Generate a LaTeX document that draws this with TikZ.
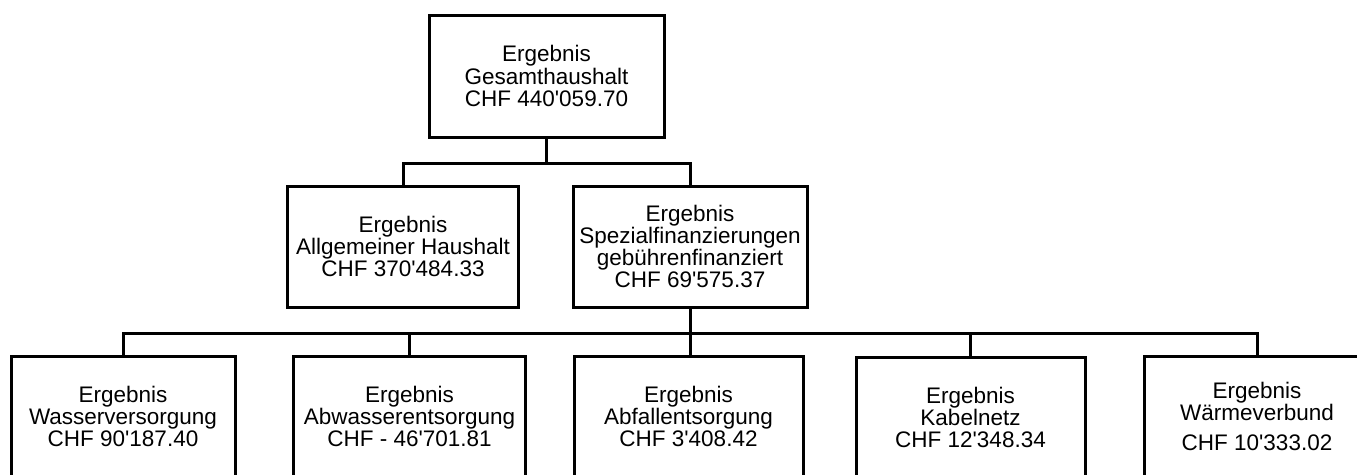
\documentclass[tikz,border=0pt]{standalone}
\usepackage{fontspec}
\setmainfont{Liberation Sans}[Ligatures=TeXOff]
\begin{document}
\begin{tikzpicture}[x=1pt,y=-1pt,
  box/.style={draw, line width=3pt, fill=white, align=center, inner sep=0pt,
    minimum height=121pt, font=\fontsize{22.5}{22.3}\selectfont},
  conn/.style={line width=3pt}]
\clip (0,0) rectangle (1357,474);
\fill[white] (0,0) rectangle (1357,474);
\node[box, minimum width=235pt, minimum height=122pt] (top) at (546.5,76) {Ergebnis\\Gesamthaushalt\\CHF 440'059.70};
\node[box, minimum width=231pt] (allg) at (403,246.5) {Ergebnis\\Allgemeiner Haushalt\\CHF 370'484.33};
\node[box, minimum width=234pt] (spez) at (690,246.5) {Ergebnis\\Spezialfinanzierungen\\gebührenfinanziert\\CHF 69'575.37};
\node[box, minimum width=224pt] (wasser) at (123,416.5) {Ergebnis\\Wasserversorgung\\CHF 90'187.40};
\node[box, minimum width=232pt] (abw) at (409.5,416.5) {Ergebnis\\Abwasserentsorgung\\CHF - 46'701.81};
\node[box, minimum width=229pt] (abf) at (688.5,416.5) {Ergebnis\\Abfallentsorgung\\CHF 3'408.42};
\node[box, minimum width=229pt] (kab) at (970.5,417.5) {Ergebnis\\Kabelnetz\\CHF 12'348.34};
\node[box, minimum width=226pt] (waerme) at (1257,416.5) {Ergebnis\\Wärmeverbund\\[8pt]CHF 10'333.02};
\draw[conn] (top.south) -- ++(0,25) coordinate (j1);
\draw[conn] (j1) -| (allg.north);
\draw[conn] (j1) -| (spez.north);
\draw[conn] (spez.south) -- ++(0,25) coordinate (j2);
\draw[conn] (j2) -| (wasser.north);
\draw[conn] (j2) -| (abw.north);
\draw[conn] (j2) -- (j2 |- abf.north);
\draw[conn] (j2) -| (kab.north);
\draw[conn] (j2) -| (waerme.north);
\end{tikzpicture}
\end{document}
